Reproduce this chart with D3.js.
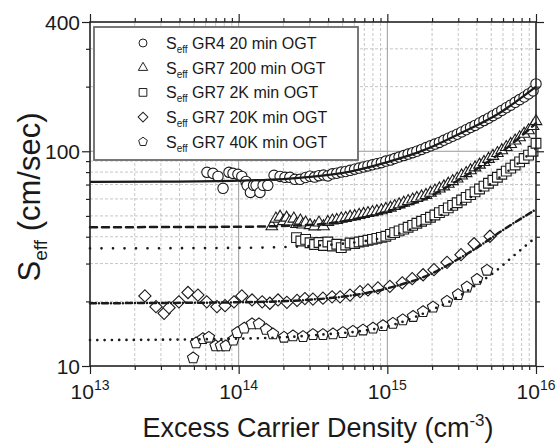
<!DOCTYPE html>
<html>
<head>
<meta charset="utf-8">
<script src="https://cdn.jsdelivr.net/npm/d3@7"></script>
<style>
  body { margin: 0; background: #fff; }
  svg { display: block; font-family: "Liberation Sans", Arial, sans-serif; }
</style>
</head>
<body>
<svg id="chart" width="558" height="444"></svg>
<script>
// ---- data ----
const xMajor = [1e13, 1e14, 1e15, 1e16];
const xMajorExp = ["13", "14", "15", "16"];
const yMajor = [10, 100, 400];
const yLabels = ["10", "100", "400"];
const yMinor = [20, 30, 40, 50, 60, 70, 80, 90, 200, 300];

const legendLabels = [
  "GR4 20 min OGT",
  "GR7 200 min OGT",
  "GR7 2K min OGT",
  "GR7 20K min OGT",
  "GR7 40K min OGT",
];

// densities shared by the dense part of the first three runs
const nTail = [2.82e14, 3.02e14, 3.24e14, 3.47e14, 3.72e14, 3.98e14, 4.27e14, 4.57e14, 4.90e14, 5.25e14,
  5.62e14, 6.03e14, 6.46e14, 6.92e14, 7.41e14, 7.94e14, 8.51e14, 9.12e14, 9.77e14,
  1.05e15, 1.12e15, 1.20e15, 1.29e15, 1.38e15, 1.48e15, 1.58e15, 1.70e15, 1.82e15, 1.95e15,
  2.09e15, 2.24e15, 2.40e15, 2.57e15, 2.75e15, 2.95e15, 3.16e15, 3.39e15, 3.63e15, 3.89e15,
  4.17e15, 4.47e15, 4.79e15, 5.13e15, 5.50e15, 5.89e15, 6.31e15, 6.76e15, 7.24e15, 7.76e15,
  8.32e15, 8.91e15, 9.55e15];

// GR4 20 min
const gr4Head = [[6.12e13, 79.8], [6.72e13, 78.9], [7.26e13, 76.4], [7.85e13, 67.2], [8.61e13, 79.8],
  [9.16e13, 78.9], [9.89e13, 78.1], [1.05e14, 76.4], [1.12e14, 72.4], [1.14e14, 69.4], [1.20e14, 64.3],
  [1.26e14, 69.4], [1.31e14, 69.4], [1.39e14, 64.3], [1.46e14, 69.4], [1.57e14, 69.4], [1.73e14, 77.3],
  [1.90e14, 76.4], [2.05e14, 75.6], [2.21e14, 75.6], [2.39e14, 74.0], [2.59e14, 74.0]];
const gr4Tail = [75.5, 76.5, 75.8, 77, 77.5, 76.8, 78.5, 79, 80, 80.5, 81.5, 82.5, 83.5, 84.5, 85.5, 86.5, 87.5, 88.5, 90,
  91, 92.5, 94, 95.5, 97, 98.5, 100, 102, 104, 106, 108, 110, 112.5, 115, 117.5, 120, 123, 126, 129, 132,
  135.5, 139, 142.5, 146.5, 150.5, 155, 159.5, 164, 169, 174, 179, 185, 191];
const gr4End = [[1e16, 206]];

// GR7 200 min
const gr200Head = [[1.67e14, 44.7], [1.78e14, 48.5], [1.90e14, 49.5], [2.00e14, 47.2], [2.10e14, 49.0],
  [2.20e14, 47.0], [2.35e14, 48.5], [2.45e14, 45.8], [2.60e14, 47.5], [2.70e14, 45.5]];
const gr200Tail = [46.5, 45.2, 44.6, 46.5, 44.7, 46.8, 47.5, 47.8, 48.5, 48.8, 49.5, 49.8, 50.5, 51, 51.5, 52, 52.5, 53, 53.8,
  54.5, 55.5, 56.5, 57.5, 58.5, 59.5, 60.5, 61.5, 62.5, 64, 65.5, 67, 68.5, 70.5, 72.5, 74.5, 77, 79, 81.5,
  84, 86.5, 89, 92, 95, 98, 101, 104.5, 108, 112, 116, 120.5, 125, 131];
const gr200End = [[1e16, 138]];

// GR7 2K min
const gr2kHead = [[2.45e14, 39.6], [2.62e14, 38.2]];
const gr2kTail = [38.9, 37.5, 36.8, 37.6, 36.4, 37.8, 36.2, 36.9, 35.6, 36.6, 37.4, 37.2, 37.8, 38.1, 38.5, 38.9, 39.3, 39.7, 40.2,
  41, 41.8, 42.6, 43.4, 44.3, 45.2, 46.2, 47.2, 48.2, 49.3, 50.5, 51.8, 53.1, 54.5, 56, 57.6, 59.3, 61, 62.8,
  64.7, 66.7, 68.8, 71, 73.3, 75.7, 78.2, 80.8, 83.5, 86.3, 89.3, 92.5, 96, 100];
const gr2kEnd = [[1e16, 109]];

// GR7 20K min
const gr20k = [[2.34e13, 21.2], [2.78e13, 18.9], [3.15e13, 17.6], [3.40e13, 18.7], [3.96e13, 19.9], [4.56e13, 22.0],
  [5.32e13, 21.4], [6.10e13, 19.9], [7.14e13, 18.9], [8.10e13, 19.1], [9.30e13, 19.9], [1.05e14, 21.2],
  [1.23e14, 20.3], [1.44e14, 19.9], [1.62e14, 19.6], [1.84e14, 20.3], [2.11e14, 19.8], [2.47e14, 20.2],
  [2.79e14, 20.6], [3.16e14, 20.5], [3.69e14, 20.7], [4.25e14, 21.0], [4.81e14, 21.0], [5.61e14, 21.4],
  [6.55e14, 22.2], [7.41e14, 22.6], [8.65e14, 23.1], [1.04e15, 23.5], [1.26e15, 24.4], [1.47e15, 25.5],
  [1.74e15, 26.6], [2.06e15, 28.1], [2.52e15, 30.4], [3.13e15, 33.0], [3.83e15, 37.1], [4.90e15, 40.2]];

// GR7 40K min
const gr40k = [[4.94e13, 10.9], [5.17e13, 12.8], [5.75e13, 13.4], [6.30e13, 13.6], [7.00e13, 12.4], [7.60e13, 12.4],
  [8.20e13, 12.4], [9.20e13, 13.2], [9.80e13, 14.3], [1.09e14, 15.0], [1.23e14, 15.7], [1.37e14, 15.7],
  [1.53e14, 14.8], [1.70e14, 14.1], [2.02e14, 13.6], [2.32e14, 13.8], [2.71e14, 13.7], [3.16e14, 14.0],
  [3.69e14, 14.0], [4.31e14, 14.1], [5.03e14, 14.3], [5.87e14, 14.5], [6.86e14, 14.7], [8.01e14, 15.0],
  [9.35e14, 15.4], [1.09e15, 15.8], [1.27e15, 16.4], [1.49e15, 17.0], [1.74e15, 17.9], [2.03e15, 18.8],
  [2.52e15, 20.0], [2.99e15, 21.5], [3.43e15, 23.3], [4.01e15, 25.3], [4.68e15, 27.9]];

// model curves
const fitGR4 = [[1e13, 72], [3e13, 72.2], [1e14, 73], [2e14, 74.2], [3.16e14, 76.2], [5.62e14, 80.5],
  [1e15, 89], [1.78e15, 101.5], [3.16e15, 122], [5.62e15, 150], [1e16, 200]];
const fit200 = [[1e13, 44.3], [1e14, 44.5], [3.16e14, 45.5], [1e15, 52.5], [1.78e15, 60], [3.16e15, 75],
  [5.62e15, 97], [1e16, 135]];
const fit2K = [[1e13, 35.3], [1e14, 35.5], [3.16e14, 36.3], [1e15, 40], [1.78e15, 46], [3.16e15, 57.5],
  [5.62e15, 75], [1e16, 103]];
const fit20K = [[1e13, 19.6], [1e14, 19.8], [3.16e14, 20.4], [1e15, 23], [2e15, 27], [3e15, 31.5],
  [4e15, 35.5], [6e15, 43], [1e16, 53.6]];
const fit40K = [[1e13, 13.2], [1e14, 13.4], [3.16e14, 13.9], [1e15, 15.3], [2e15, 18.3], [3e15, 21],
  [4e15, 24], [5.3e15, 27.5], [7e15, 32.4], [1e16, 39.8]];

// ---- drawing ----
const svg = d3.select("#chart");
const x = d3.scaleLog().domain([1e13, 1e16]).range([90, 536]);
const y = d3.scaleLog().domain([10, 400]).range([366, 22]);
const [x0, x1] = x.range();
const [y0, y1] = y.range();

const xMinor = [];
for (let e = 13; e < 16; e++) for (let m = 2; m <= 9; m++) xMinor.push(m * Math.pow(10, e));

// pentagon symbol (d3 has none)
const symbolPentagon = {
  draw(ctx, size) {
    const r = Math.sqrt(size / 2.378);
    for (let i = 0; i < 5; i++) {
      const a = -Math.PI / 2 + (i * 2 * Math.PI) / 5;
      if (i === 0) ctx.moveTo(r * Math.cos(a), r * Math.sin(a));
      else ctx.lineTo(r * Math.cos(a), r * Math.sin(a));
    }
    ctx.closePath();
  },
};

const series = [
  { points: gr4Head.concat(nTail.map((n, i) => [n, gr4Tail[i]]), gr4End), type: d3.symbolCircle, size: 85, rot: 0, lsize: 50 },
  { points: gr200Head.concat(nTail.map((n, i) => [n, gr200Tail[i]]), gr200End), type: d3.symbolTriangle, size: 58, rot: 0, lsize: 38 },
  { points: gr2kHead.concat(nTail.map((n, i) => [n, gr2kTail[i]]), gr2kEnd), type: d3.symbolSquare, size: 95, rot: 0, lsize: 60 },
  { points: gr20k, type: d3.symbolSquare, size: 75, rot: 45, lsize: 48 },
  { points: gr40k, type: symbolPentagon, size: 85, rot: 0, lsize: 50 },
];

const fits = [
  { points: fitGR4, dash: null, width: 2.3 },
  { points: fit200, dash: "7,5", width: 2.5 },
  { points: fit2K, dash: "0,11.5", width: 2.7 },
  { points: fit20K, dash: "6,3,0,3", width: 2.5 },
  { points: fit40K, dash: "0,7.3", width: 2.7 },
];

// grid
const grid = svg.append("g");
grid.selectAll(".gx").data(xMinor).join("line")
  .attr("x1", (d) => x(d)).attr("x2", (d) => x(d)).attr("y1", y0).attr("y2", y1)
  .attr("stroke", "#b8b8b8").attr("stroke-width", 0.8).attr("stroke-dasharray", "3,2");
grid.selectAll(".gy").data(yMinor).join("line")
  .attr("y1", (d) => y(d)).attr("y2", (d) => y(d)).attr("x1", x0).attr("x2", x1)
  .attr("stroke", "#b8b8b8").attr("stroke-width", 0.8).attr("stroke-dasharray", "3,2");
grid.selectAll(".gX").data(xMajor.slice(1, 3)).join("line")
  .attr("x1", (d) => x(d)).attr("x2", (d) => x(d)).attr("y1", y0).attr("y2", y1)
  .attr("stroke", "#9a9a9a").attr("stroke-width", 1);
grid.append("line")
  .attr("y1", y(100)).attr("y2", y(100)).attr("x1", x0).attr("x2", x1)
  .attr("stroke", "#9a9a9a").attr("stroke-width", 1);

// markers
series.forEach((s) => {
  const sym = d3.symbol().type(s.type).size(s.size);
  svg.append("g").selectAll("path").data(s.points).join("path")
    .attr("d", sym)
    .attr("transform", (d) => `translate(${x(d[0])},${y(d[1])}) rotate(${s.rot})`)
    .attr("fill", "#fff").attr("stroke", "#1a1a1a").attr("stroke-width", 1.1);
});

// model lines on top of the markers
const line = d3.line().x((d) => x(d[0])).y((d) => y(d[1])).curve(d3.curveMonotoneX);
fits.forEach((f) => {
  svg.append("path").datum(f.points)
    .attr("d", line)
    .attr("fill", "none").attr("stroke", "#1a1a1a")
    .attr("stroke-width", f.width)
    .attr("stroke-linecap", f.dash ? "round" : "butt")
    .attr("stroke-dasharray", f.dash);
});

// legend
const lg = svg.append("g");
lg.append("rect").attr("x", 94).attr("y", 27).attr("width", 264).attr("height", 133)
  .attr("fill", "#fff").attr("stroke", "#6a6a6a").attr("stroke-width", 1.8);
legendLabels.forEach((lab, i) => {
  const s = series[i];
  const cy = 43 + i * 24.7;
  lg.append("path")
    .attr("d", d3.symbol().type(s.type).size(s.lsize))
    .attr("transform", `translate(143,${cy}) rotate(${s.rot})`)
    .attr("fill", "#fff").attr("stroke", "#222").attr("stroke-width", 1);
  const t = lg.append("text").attr("x", 166).attr("y", cy + 6)
    .attr("font-size", 16).attr("fill", "#1a1a1a");
  t.append("tspan").text("S");
  t.append("tspan").attr("dy", 4).attr("font-size", 10).text("eff");
  t.append("tspan").attr("dy", -4).text(" " + lab);
});

// axes
const tickStyle = (g) => {
  g.select(".domain").remove();
  g.selectAll(".tick line").attr("stroke", "#222").attr("stroke-width", 1.2);
  g.selectAll(".tick text").remove();
};
svg.append("g").attr("transform", `translate(0,${y0})`)
  .call(d3.axisBottom(x).tickValues(xMajor).tickSize(8).tickFormat("")).call(tickStyle);
svg.append("g").attr("transform", `translate(0,${y0})`)
  .call(d3.axisBottom(x).tickValues(xMinor).tickSize(4).tickFormat("")).call(tickStyle);
svg.append("g").attr("transform", `translate(0,${y1})`)
  .call(d3.axisTop(x).tickValues(xMajor).tickSize(8).tickFormat("")).call(tickStyle);
svg.append("g").attr("transform", `translate(0,${y1})`)
  .call(d3.axisTop(x).tickValues(xMinor).tickSize(4).tickFormat("")).call(tickStyle);
svg.append("g").attr("transform", `translate(${x0},0)`)
  .call(d3.axisLeft(y).tickValues(yMajor).tickSize(8).tickFormat("")).call(tickStyle);
svg.append("g").attr("transform", `translate(${x0},0)`)
  .call(d3.axisLeft(y).tickValues(yMinor).tickSize(4).tickFormat("")).call(tickStyle);
svg.append("g").attr("transform", `translate(${x1},0)`)
  .call(d3.axisRight(y).tickValues(yMajor).tickSize(8).tickFormat("")).call(tickStyle);
svg.append("g").attr("transform", `translate(${x1},0)`)
  .call(d3.axisRight(y).tickValues(yMinor).tickSize(4).tickFormat("")).call(tickStyle);

svg.append("rect").attr("x", x0).attr("y", y1).attr("width", x1 - x0).attr("height", y0 - y1)
  .attr("fill", "none").attr("stroke", "#222").attr("stroke-width", 1.6);

// tick labels
xMajor.forEach((v, i) => {
  const t = svg.append("text").attr("x", x(v)).attr("y", 399)
    .attr("text-anchor", "middle").attr("font-size", 21).attr("fill", "#1a1a1a");
  t.append("tspan").text("10");
  t.append("tspan").attr("dy", -9).attr("font-size", 14).text(xMajorExp[i]);
});
yMajor.forEach((v, i) => {
  svg.append("text").attr("x", 80).attr("y", y(v)).attr("dy", "0.36em")
    .attr("text-anchor", "end").attr("font-size", 21).attr("fill", "#1a1a1a").text(yLabels[i]);
});

// axis titles
const xt = svg.append("text").attr("x", 318).attr("y", 437)
  .attr("text-anchor", "middle").attr("font-size", 27).attr("fill", "#1a1a1a");
xt.append("tspan").text("Excess Carrier Density (cm");
xt.append("tspan").attr("dy", -11).attr("font-size", 17).text("-3");
xt.append("tspan").attr("dy", 11).text(")");

const yt = svg.append("text").attr("transform", "translate(40,197) rotate(-90)")
  .attr("text-anchor", "middle").attr("font-size", 31).attr("fill", "#1a1a1a");
yt.append("tspan").text("S");
yt.append("tspan").attr("dy", 7).attr("font-size", 19).text("eff");
yt.append("tspan").attr("dy", -7).text(" (cm/sec)");
</script>
</body>
</html>
